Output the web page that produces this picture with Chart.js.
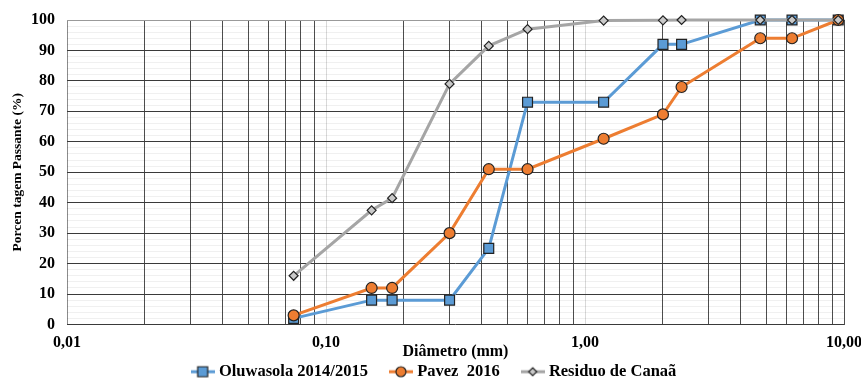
<!DOCTYPE html>
<html><head><meta charset="utf-8">
<script src="https://cdn.jsdelivr.net/npm/chart.js@4"></script>
<style>html,body{margin:0;padding:0;background:#fff;} #wrap{width:861px;height:378px;position:relative;}</style>
</head><body><div id="wrap"><canvas id="c"></canvas></div>
<script>
// ---- data ----
const sieveSizes = [0.075, 0.15, 0.18, 0.30, 0.425, 0.6, 1.18, 2.0, 2.36, 4.75, 6.3, 9.5];
const oluwasola = [2, 8, 8, 8, 25, 73, 73, 92, 92, 100, 100, 100];
const pavez = [3, 12, 12, 30, 51, 51, 61, 69, 78, 94, 94, 100];
const residuo = [16, 37.5, 41.5, 79, 91.5, 97, 99.8, 99.9, 100, 100, 100, 100];
const seriesNames = ['Oluwasola 2014/2015', 'Pavez  2016', 'Residuo de Canaã'];
const xMajorTicks = [0.01, 0.1, 1, 10];
const xTickLabels = ['0,01', '0,10', '1,00', '10,00'];
const yTickValues = [0, 10, 20, 30, 40, 50, 60, 70, 80, 90, 100];
const xTitle = 'Diâmetro (mm)';
const yTitle = 'Porcen tagem Passante (%)';

// ---- styling ----
const FONT = 'Liberation Serif';
const colors = ['#5B9BD5', '#ED7D31', '#A5A5A5'];
const pointFill = ['#5B9BD5', '#ED7D31', '#C9C9C9'];
const pointStyles = ['rect', 'circle', 'rectRot'];
const pointRadii = [7, 5.5, 4.5];

function toPoints(vals) { return sieveSizes.map((x, i) => ({x: x, y: vals[i]})); }

function legendIcon(i) {
  const c = document.createElement('canvas');
  c.width = 24; c.height = 14;
  const g = c.getContext('2d');
  g.strokeStyle = colors[i]; g.lineWidth = 3;
  g.beginPath(); g.moveTo(0, 7); g.lineTo(24, 7); g.stroke();
  g.fillStyle = pointFill[i]; g.strokeStyle = '#222'; g.lineWidth = 1.2;
  g.beginPath();
  if (i === 0) { g.rect(7, 2, 10, 10); }
  else if (i === 1) { g.arc(12, 7, 5, 0, Math.PI * 2); }
  else { g.moveTo(12, 3); g.lineTo(16, 7); g.lineTo(12, 11); g.lineTo(8, 7); g.closePath(); }
  g.fill(); g.stroke();
  return c;
}
const icons = [legendIcon(0), legendIcon(1), legendIcon(2)];

function isMajor(v) {
  return xMajorTicks.some(t => Math.abs(Math.log10(v) - Math.log10(t)) < 1e-6);
}

const seriesData = [oluwasola, pavez, residuo];
const datasets = seriesData.map((vals, i) => ({
  label: seriesNames[i],
  data: toPoints(vals),
  borderColor: colors[i],
  backgroundColor: pointFill[i],
  borderWidth: 3,
  tension: 0,
  pointStyle: pointStyles[i],
  pointRadius: pointRadii[i],
  pointHoverRadius: pointRadii[i],
  pointBackgroundColor: pointFill[i],
  pointBorderColor: '#222',
  pointBorderWidth: 1.2,
  order: 2 - i,
  clip: false
}));

new Chart(document.getElementById('c'), {
  type: 'line',
  data: {datasets: datasets},
  options: {
    responsive: true,
    maintainAspectRatio: false,
    animation: false,
    layout: {padding: {top: 20, right: 17, left: 27, bottom: -12}},
    plugins: {
      tooltip: {enabled: false},
      legend: {
        position: 'bottom',
        labels: {
          usePointStyle: true,
          pointStyleWidth: 16,
          padding: 25,
          color: '#000',
          font: {family: FONT, size: 16.5, weight: 'bold'},
          generateLabels: (chart) => chart.data.datasets.map((d, i) => ({
            text: d.label, pointStyle: icons[i], datasetIndex: i,
            fillStyle: colors[i], strokeStyle: colors[i], lineWidth: 0, hidden: false
          }))
        }
      }
    },
    scales: {
      x: {
        type: 'logarithmic',
        min: 0.01, max: 10,
        afterBuildTicks: (scale) => {
          const t = [];
          for (let d = 0; d < xMajorTicks.length - 1; d++) {
            for (let k = 1; k <= 9; k++) t.push({value: xMajorTicks[d] * k});
          }
          t.push({value: xMajorTicks[xMajorTicks.length - 1]});
          scale.ticks = t;
        },
        afterFit: (scale) => { scale.paddingLeft = 0; scale.paddingRight = 0; scale.height = 14; },
        ticks: {
          autoSkip: false, maxRotation: 0, minRotation: 0, mirror: true, padding: -28, color: '#000',
          font: {family: FONT, size: 16, weight: 'bold'},
          callback: (v) => {
            const i = xMajorTicks.findIndex(t => Math.abs(Math.log10(v) - Math.log10(t)) < 1e-6);
            return i >= 0 ? xTickLabels[i] : '';
          }
        },
        grid: {
          drawTicks: false,
          lineWidth: 1,
          color: (ctx) => {
            const v = ctx.tick ? ctx.tick.value : 0;
            if (Math.abs(v - 0.01) < 1e-9) return '#8c8c8c';
            if (Math.abs(v - 10) < 1e-9) return '#4d4d4d';
            return isMajor(v) ? '#d9d9d9' : '#4d4d4d';
          }
        },
        border: {display: false},
        title: {
          display: true, text: xTitle, color: '#000',
          font: {family: FONT, size: 16, weight: 'bold'},
          padding: {top: 0, bottom: -23}
        }
      },
      y: {
        min: 0, max: 100,
        afterBuildTicks: (scale) => {
          const t = [];
          for (let v = 0; v <= 100; v += 2) t.push({value: v});
          scale.ticks = t;
        },
        afterFit: (scale) => { scale.width = 40; scale.paddingTop = 0; scale.paddingBottom = 0; },
        ticks: {
          autoSkip: false, padding: 12, color: '#000',
          font: {family: FONT, size: 16, weight: 'bold'},
          callback: (v) => yTickValues.includes(v) ? String(v) : ''
        },
        grid: {
          drawTicks: false,
          lineWidth: 1,
          color: (ctx) => {
            const v = ctx.tick ? ctx.tick.value : 0;
            if (v === 100) return '#9a9a9a';
            return v % 10 === 0 ? '#3a3a3a' : 'rgba(0,0,0,0.06)';
          }
        },
        border: {display: false},
        title: {
          display: true, text: yTitle, color: '#000',
          font: {family: FONT, size: 13.5, weight: 'bold'},
          padding: {top: -18, bottom: 0}
        }
      }
    }
  }
});
</script>
</body></html>
